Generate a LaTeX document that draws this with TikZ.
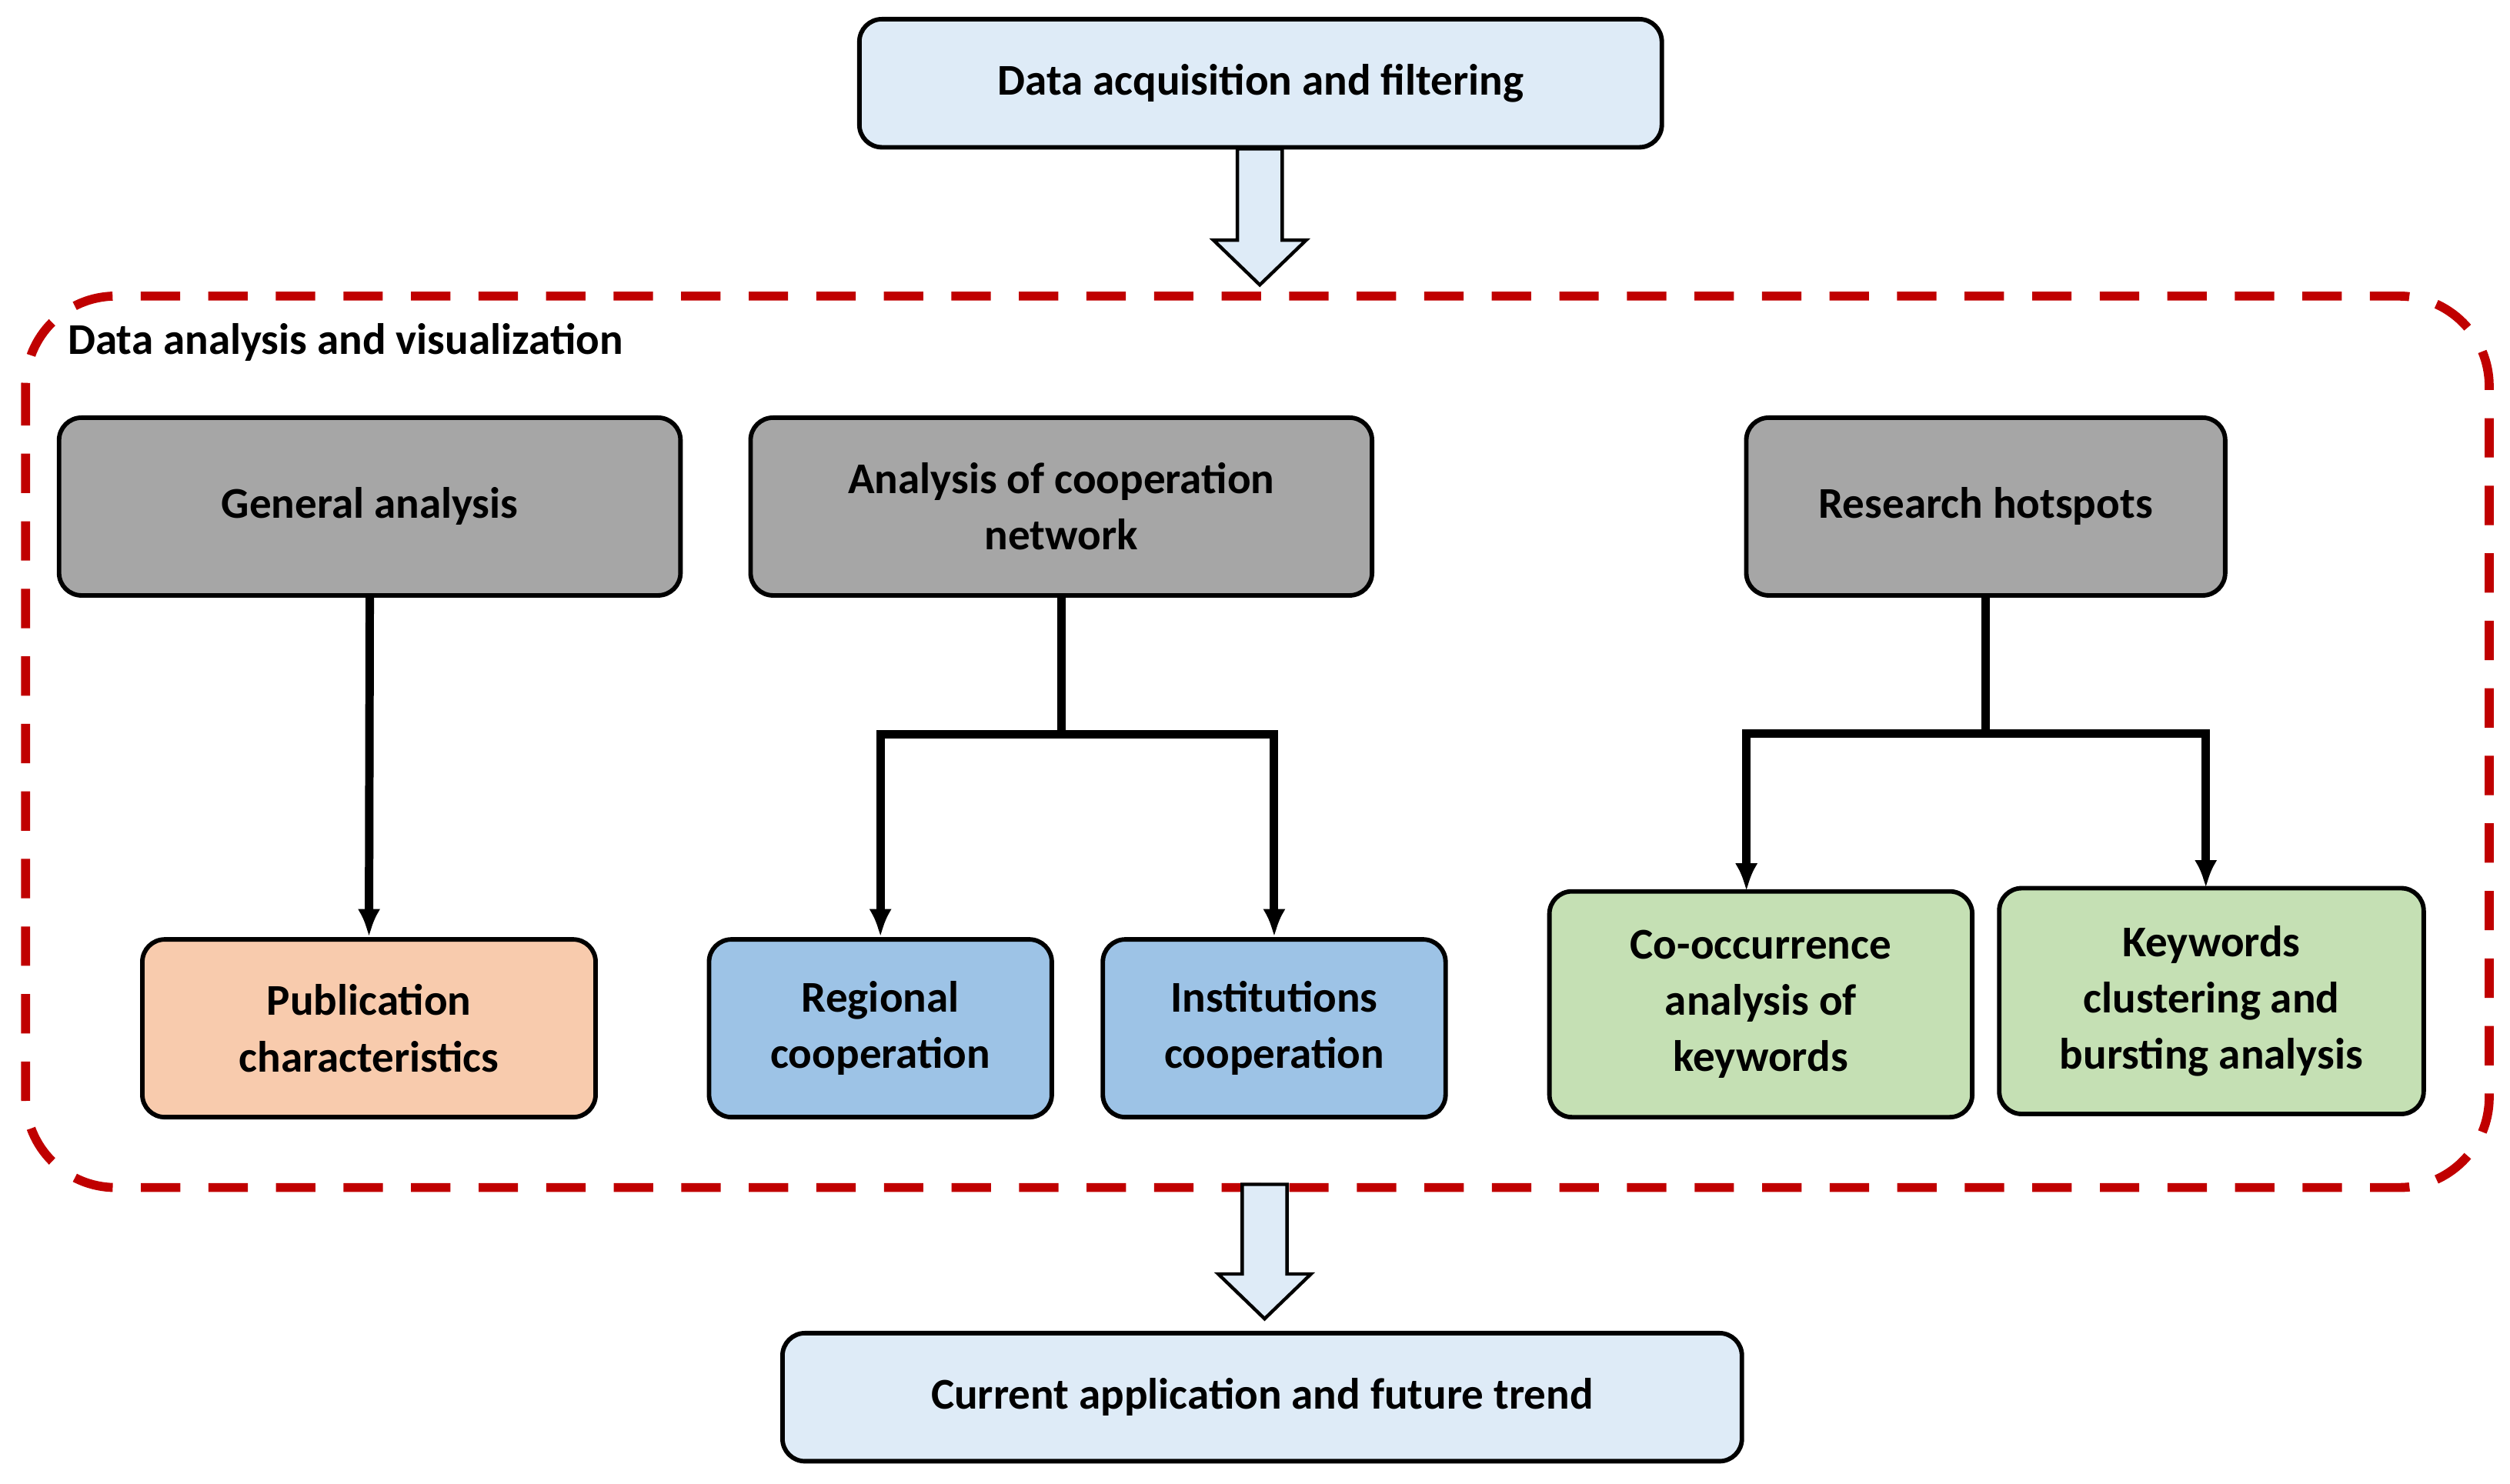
\documentclass[tikz,border=0pt]{standalone}
\usepackage{fontspec}
\setmainfont{Carlito}
\usetikzlibrary{arrows.meta,shapes.arrows}
\definecolor{lb}{HTML}{DEEBF7}
\definecolor{gr}{HTML}{A6A6A6}
\definecolor{orr}{HTML}{F8CBAD}
\definecolor{bl}{HTML}{9DC3E6}
\definecolor{gn}{HTML}{C5E0B4}
\definecolor{rd}{HTML}{C00000}
\begin{document}
\begin{tikzpicture}[x=0.01cm,y=-0.01cm,
  box/.style={draw=black,line width=0.8pt,rounded corners=4pt,align=center,font=\bfseries\fontsize{7.8}{10}\selectfont},
  conn/.style={line width=1.5pt,-{Latex[length=5pt,width=4pt]}},
  line/.style={line width=1.5pt},
  hol/.style={draw=black,fill=lb,line width=0.6pt}]
\useasboundingbox (0,0) rectangle (1568,927);
\node[box,fill=lb,minimum width=5.01cm,minimum height=0.8cm] (top) at (787.5,52) {Data acquisition and filtering};
\draw[rd,line width=1.6pt,dash pattern=on 7pt off 5pt,rounded corners=16pt] (16,185) rectangle (1555,742);
\node[anchor=west,font=\bfseries\fontsize{7.8}{10}\selectfont] (lab) at (30,214) {Data analysis and visualization};
\node[box,fill=gr,minimum width=3.88cm,minimum height=1.11cm] (ga) at (231,316.5) {General analysis};
\node[box,fill=gr,minimum width=3.88cm,minimum height=1.11cm] (cn) at (663,316.5) {Analysis of cooperation\\network};
\node[box,fill=gr,minimum width=2.99cm,minimum height=1.11cm] (rh) at (1240.5,316.5) {Research hotspots};
\node[box,fill=orr,minimum width=2.83cm,minimum height=1.11cm] (pc) at (230.5,642.5) {Publication\\characteristics};
\node[box,fill=bl,minimum width=2.14cm,minimum height=1.11cm] (rc) at (550,642.5) {Regional\\cooperation};
\node[box,fill=bl,minimum width=2.14cm,minimum height=1.11cm] (ic) at (796,642.5) {Institutions\\cooperation};
\node[box,fill=gn,minimum width=2.64cm,minimum height=1.41cm] (co) at (1100,627.5) {Co-occurrence\\analysis of\\keywords};
\node[box,fill=gn,minimum width=2.65cm,minimum height=1.41cm] (kc) at (1381.5,625.5) {Keywords\\clustering and\\bursting analysis};
\node[box,fill=lb,minimum width=5.99cm,minimum height=0.8cm] (bot) at (788.5,873) {Current application and future trend};
\coordinate (h1) at (663,459);
\coordinate (h2) at (1242,457);
\draw[conn] (ga.south) -- (pc.north);
\draw[line] (cn.south) -- (h1);
\draw[conn] (h1) -| (rc.north);
\draw[conn] (h1) -| (ic.north);
\draw[line] (rh.south) -- ++(0,85) coordinate (h2);
\draw[conn] (h2) -| (1091,557);
\draw[conn] (h2) -| (1378,555);
\draw[hol] (773,93) -- (801,93) -- (801,150) -- (816,150) -- (787,178) -- (758,150) -- (773,150) -- cycle;
\draw[hol] (776,740) -- (804,740) -- (804,796) -- (819,796) -- (790,824) -- (761,796) -- (776,796) -- cycle;
\end{tikzpicture}
\end{document}
